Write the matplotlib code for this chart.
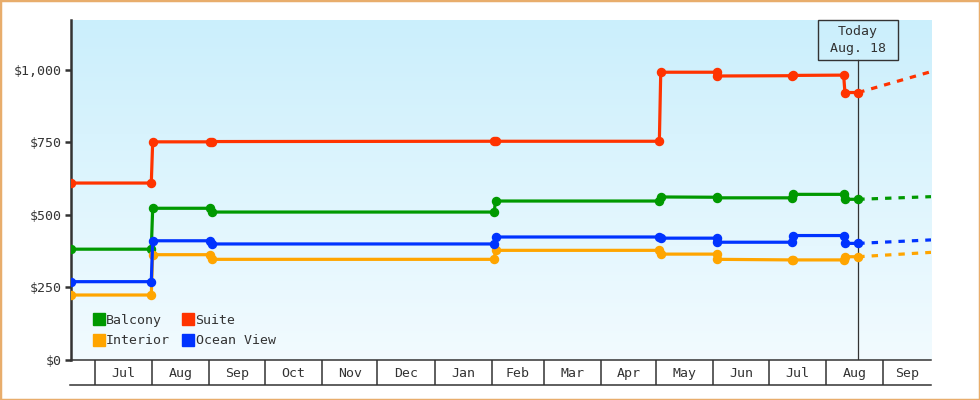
import numpy as np
import pandas as pd
import matplotlib
matplotlib.use('Agg')
import matplotlib.pyplot as plt
import matplotlib.dates as mdates
from matplotlib.lines import Line2D
from matplotlib.patches import Rectangle

# price snapshots, two points a few hours apart around every change
dates = ['2014-06-18 00:00', '2014-07-31 12:00', '2014-08-01 06:00',
         '2014-09-01 12:00', '2014-09-02 06:00', '2015-02-02 06:00',
         '2015-02-03 00:00', '2015-05-02 18:00', '2015-05-03 12:00',
         '2015-06-02 18:00', '2015-06-03 06:00', '2015-07-13 16:00',
         '2015-07-14 02:00', '2015-08-10 14:00', '2015-08-11 07:00',
         '2015-08-18 12:00']

balcony = [382, 382, 523, 523, 510, 510, 548, 548, 562, 561, 559, 559, 571, 571, 554, 554]
suite = [610, 610, 752, 752, 753, 754, 754, 754, 992, 992, 979, 980, 981, 982, 922, 922]
ocean_view = [270, 270, 411, 411, 400, 400, 424, 424, 420, 420, 406, 406, 429, 429, 402, 402]
interior = [224, 224, 363, 363, 347, 347, 378, 378, 365, 365, 347, 345, 345, 345, 356, 356]

# forecast from today to end of axis
forecast_dates = ['2015-08-18 12:00', '2015-09-26 22:00']
balcony_fc = [554, 563]
suite_fc = [922, 994]
ocean_view_fc = [402, 414]
interior_fc = [356, 371]

today = '2015-08-18 12:00'
today_label = 'Today\nAug. 18'

x_start = '2014-06-18 00:00'
x_end = '2015-09-26 22:00'

y_ticks = [0, 250, 500, 750, 1000]
y_labels = ['$0', '$250', '$500', '$750', '$1,000']

series = [
    ('Balcony', balcony, balcony_fc, '#009900'),
    ('Interior', interior, interior_fc, '#ffa500'),
    ('Suite', suite, suite_fc, '#ff3300'),
    ('Ocean View', ocean_view, ocean_view_fc, '#0033ff'),
]

plt.rcParams['font.family'] = ['DejaVu Sans Mono']
plt.rcParams['font.size'] = 9.5
txt_col = '#333333'

W, H = 980, 400
fig = plt.figure(figsize=(W / 100, H / 100), dpi=100)
ax = fig.add_axes([71 / W, 40 / H, 860 / W, 340 / H])

# gradient background
top = np.array([203, 239, 252]) / 255.0
bot = np.array([242, 251, 255]) / 255.0
t = np.linspace(0, 1, 256)[:, None]
grad = (top * (1 - t) + bot * t)[:, None, :]
ax.imshow(grad, extent=[0, 1, 0, 1], transform=ax.transAxes, aspect='auto', zorder=0)

x = pd.to_datetime(dates)
xf = pd.to_datetime(forecast_dates)
for name, vals, fc, col in series:
    ax.plot(x, vals, color=col, lw=2.3, marker='o', ms=5.8, zorder=3)
    ax.plot(xf, fc, color=col, lw=2.3, ls=(0, (2, 2.2)), zorder=3)

xmin = mdates.date2num(pd.Timestamp(x_start))
xmax = mdates.date2num(pd.Timestamp(x_end))
ax.set_xlim(xmin, xmax)
ax.set_ylim(0, 1172)

# y axis
ax.set_yticks(y_ticks)
ax.set_yticklabels(y_labels)
ax.tick_params(axis='y', direction='out', length=4.5, width=1.8, color=txt_col,
               labelcolor=txt_col, pad=2)

# month band below the plot
starts = pd.date_range(pd.Timestamp(x_start), pd.Timestamp(x_end), freq='MS')
bounds = [xmin] + [mdates.date2num(s) for s in starts] + [xmax]
ax.set_xticks([mdates.date2num(s) for s in starts])
ax.set_xticklabels([])
mids, labs = [], []
for i in range(1, len(bounds) - 1):
    mids.append((bounds[i] + bounds[i + 1]) / 2)
    labs.append(starts[i - 1].strftime('%b'))
ax.set_xticks(mids, minor=True)
ax.set_xticklabels(labs, minor=True)
ax.tick_params(axis='x', which='major', direction='out', length=18, width=1.1, color=txt_col)
ax.tick_params(axis='x', which='minor', length=0, pad=5, labelcolor=txt_col)
ax.add_line(Line2D([-0.0012, 1], [-25 / 340] * 2, transform=ax.transAxes, color=txt_col,
                   lw=1.1, clip_on=False))

for s in ['top', 'right']:
    ax.spines[s].set_visible(False)
ax.spines['left'].set_linewidth(1.8)
ax.spines['left'].set_color(txt_col)
ax.spines['bottom'].set_linewidth(1.1)
ax.spines['bottom'].set_color(txt_col)

# today marker
tn = mdates.date2num(pd.Timestamp(today))
ax.axvline(tn, ymin=0, ymax=300 / 340, color=txt_col, lw=0.9, zorder=2)
tx = (tn - xmin) / (xmax - xmin)
ax.add_patch(Rectangle((tx - 40 / 860, 300 / 340), 80 / 860, 40 / 340, transform=ax.transAxes,
                       fill=False, edgecolor=txt_col, lw=1.0, clip_on=False, zorder=4))
ax.text(tx, 320 / 340, today_label, transform=ax.transAxes, ha='center', va='center',
        color=txt_col, linespacing=1.35, zorder=5)

handles = [Line2D([], [], marker='s', ls='none', ms=8, color=c) for _, _, _, c in series]
ax.legend(handles, [n for n, _, _, _ in series], ncol=2, frameon=False, loc='lower left',
          bbox_to_anchor=(0.026, 0.037), borderaxespad=0, handlelength=0.8,
          handletextpad=0.15, columnspacing=1.0, labelspacing=0.6, borderpad=0,
          labelcolor=txt_col)

# figure border
fig.patches.append(Rectangle((0, 0), 1, 1, transform=fig.transFigure, fill=False,
                             edgecolor='#e8ad6c', lw=2.5))

fig.savefig('out.png', dpi=100)
